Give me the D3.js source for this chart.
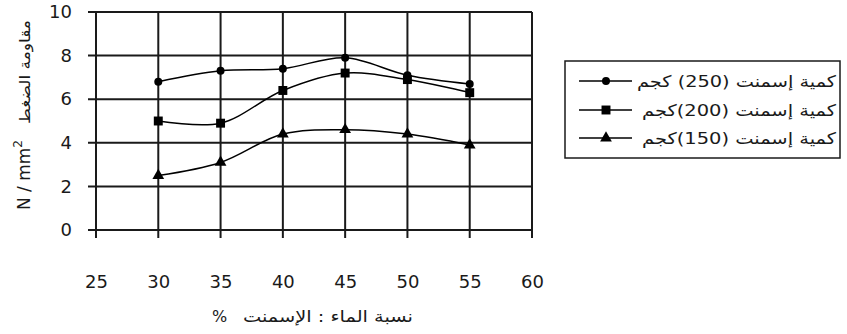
<!DOCTYPE html>
<html>
<head>
<meta charset="utf-8">
<script src="https://cdn.jsdelivr.net/npm/d3@7"></script>
<style>
  html, body { margin: 0; padding: 0; background: #fff; }
  svg { display: block; }
</style>
</head>
<body>
<svg id="chart" width="847" height="334"></svg>
<script>
// Water:cement ratio (%) on x, compressive strength (N/mm²) on y
const ratios = [30, 35, 40, 45, 50, 55];
const cement250 = [6.8, 7.3, 7.4, 7.9, 7.1, 6.7];
const cement200 = [5.0, 4.9, 6.4, 7.2, 6.9, 6.3];
const cement150 = [2.5, 3.1, 4.4, 4.6, 4.4, 3.9];
const xTicks = [25, 30, 35, 40, 45, 50, 55, 60];
const yTicks = [0, 2, 4, 6, 8, 10];
const seriesNames = ["كمية إسمنت (250) كجم", "كمية إسمنت (200)كجم", "كمية إسمنت (150)كجم"];

const svg = d3.select("#chart");
const plotLeft = 96, plotRight = 532, plotTop = 12, plotBottom = 230;

const x = d3.scaleLinear().domain([25, 60]).range([plotLeft, plotRight]);
const y = d3.scaleLinear().domain([0, 10]).range([plotBottom, plotTop]);

const ink = "#1a1a1a";
const numFont = "'DejaVu Sans', Verdana, sans-serif";

// grid: vertical at every x tick, horizontal at every y tick
const grid = svg.append("g").attr("stroke", ink).attr("stroke-width", 2);
grid.selectAll("line.v").data(xTicks).join("line")
  .attr("class", "v")
  .attr("x1", d => x(d)).attr("x2", d => x(d))
  .attr("y1", plotTop).attr("y2", plotBottom + 8);
grid.selectAll("line.h").data(yTicks).join("line")
  .attr("class", "h")
  .attr("y1", d => y(d)).attr("y2", d => y(d))
  .attr("x1", plotLeft - 8).attr("x2", plotRight);

// y axis labels
const yAxis = d3.axisLeft(y).tickValues(yTicks).tickSize(0).tickPadding(24);
const gy = svg.append("g").attr("transform", `translate(${plotLeft},0)`).call(yAxis);
gy.select(".domain").remove();
gy.selectAll("text").attr("font-family", numFont).attr("font-size", 18).attr("fill", ink);

// x axis labels
const xAxis = d3.axisBottom(x).tickValues(xTicks).tickSize(0).tickPadding(45);
const gx = svg.append("g").attr("transform", `translate(0,${plotBottom})`).call(xAxis);
gx.select(".domain").remove();
gx.selectAll("text").attr("font-family", numFont).attr("font-size", 18).attr("fill", ink);

// smoothed series lines
const line = d3.line()
  .x((d, i) => x(ratios[i]))
  .y(d => y(d))
  .curve(d3.curveCatmullRom.alpha(0.5));

const series = [
  { values: cement250, symbol: d3.symbolCircle, size: 50 },
  { values: cement200, symbol: d3.symbolSquare, size: 80 },
  { values: cement150, symbol: d3.symbolTriangle, size: 60 }
];

series.forEach(s => {
  svg.append("path").datum(s.values)
    .attr("d", line)
    .attr("fill", "none").attr("stroke", "#000").attr("stroke-width", 1.5);
  svg.append("g").selectAll("path").data(s.values).join("path")
    .attr("transform", (d, i) => `translate(${x(ratios[i])},${y(d)})`)
    .attr("d", d3.symbol().type(s.symbol).size(s.size))
    .attr("fill", "#000");
});

// axis titles
svg.append("text")
  .attr("transform", "translate(30,175) rotate(-90)")
  .attr("text-anchor", "middle")
  .attr("font-family", numFont).attr("font-size", 17).attr("fill", ink)
  .html('N / mm<tspan dy="-8" font-size="12">2</tspan>');
svg.append("text")
  .attr("transform", "translate(30,72) rotate(-90)")
  .attr("text-anchor", "middle")
  .attr("direction", "rtl")
  .attr("textLength", 104).attr("lengthAdjust", "spacingAndGlyphs")
  .attr("font-family", numFont).attr("font-size", 15).attr("fill", ink)
  .text("مقاومة الضغط");

svg.append("text")
  .attr("x", 212).attr("y", 322)
  .attr("font-family", numFont).attr("font-size", 16).attr("fill", ink)
  .text("%");
svg.append("text")
  .attr("x", 413).attr("y", 322)
  .attr("text-anchor", "start")
  .attr("direction", "rtl")
  .attr("textLength", 170).attr("lengthAdjust", "spacingAndGlyphs")
  .attr("font-family", numFont).attr("font-size", 16).attr("fill", ink)
  .text("نسبة الماء : الإسمنت");

// legend
const lg = svg.append("g");
lg.append("rect")
  .attr("x", 565).attr("y", 61).attr("width", 275).attr("height", 97)
  .attr("fill", "#fff").attr("stroke", ink).attr("stroke-width", 1.5);
const rowsY = [81, 110, 138];
series.forEach((s, i) => {
  lg.append("line")
    .attr("x1", 579).attr("x2", 632).attr("y1", rowsY[i]).attr("y2", rowsY[i])
    .attr("stroke", "#000").attr("stroke-width", 1.5);
  lg.append("path")
    .attr("transform", `translate(606,${rowsY[i]})`)
    .attr("d", d3.symbol().type(s.symbol).size(s.size))
    .attr("fill", "#000");
  lg.append("text")
    .attr("x", 836).attr("y", rowsY[i] + 6)
    .attr("text-anchor", "start")
    .attr("direction", "rtl")
    .attr("textLength", i === 0 ? 199 : 194).attr("lengthAdjust", "spacingAndGlyphs")
    .attr("font-family", numFont).attr("font-size", 16).attr("fill", ink)
    .text(seriesNames[i]);
});
</script>
</body>
</html>
